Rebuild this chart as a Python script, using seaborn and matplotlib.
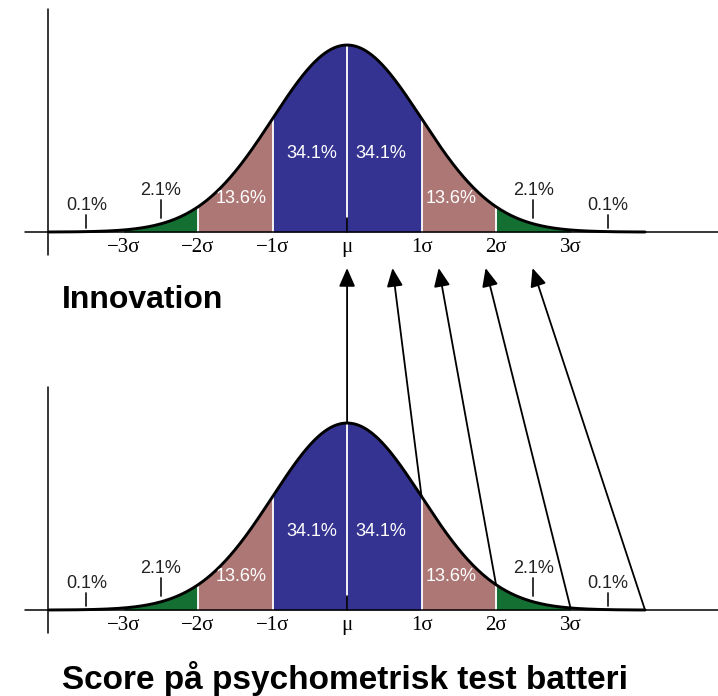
import numpy as np
import matplotlib.pyplot as plt
import seaborn as sns
from matplotlib.patches import ConnectionPatch

sns.set_theme(style="white")
plt.rcParams["font.family"] = ["Liberation Sans", "DejaVu Sans"]
plt.rcParams["text.color"] = "black"

# Data

band_edges = [-3, -2, -1, 0, 1, 2, 3]
band_colors = ["#137032", "#ad7775", "#343391", "#343391", "#ad7775", "#137032"]

inner_labels = ["13.6%", "34.1%", "34.1%", "13.6%"]
inner_x = [-1.42, -0.47, 0.45, 1.40]
inner_y = [0.0725, 0.1685, 0.1685, 0.0725]

tail_labels = ["0.1%", "2.1%", "2.1%", "0.1%"]
tail_x = [-3.5, -2.5, 2.5, 3.5]
tail_label_y = [0.0576, 0.0896, 0.0896, 0.0576]
tail_tick = [(0.0085, 0.0363), (0.0299, 0.0683), (0.0299, 0.0683), (0.0085, 0.0363)]

tick_pos = [-3, -2, -1, 0, 1, 2, 3]
tick_labels = ["\u22123\u03c3", "\u22122\u03c3", "\u22121\u03c3", "\u03bc", "1\u03c3", "2\u03c3", "3\u03c3"]

# arrows: from bottom curve (sigma) to top axis position (sigma)
arrow_from = [0, 1, 2, 3, 4]
arrow_to = [0, 0.61, 1.23, 1.86, 2.49]

titles = ["Innovation", "Score p\u00e5 psychometrisk test batteri"]


def pdf(x):
    return np.exp(-0.5 * np.asarray(x) ** 2) / np.sqrt(2 * np.pi)


def draw_bell(ax):
    xs = np.linspace(-4, 4, 600)
    for i in range(len(band_edges) - 1):
        seg = np.linspace(band_edges[i], band_edges[i + 1], 100)
        ax.fill_between(seg, 0, pdf(seg), color=band_colors[i], lw=0)
    for b in [-2, -1, 1, 2]:
        ax.plot([b, b], [0, pdf(b)], color="white", lw=1.3)
    ax.plot([0, 0], [0.030, pdf(0)], color="white", lw=1.3)
    ax.plot([0, 0], [0, 0.030], color="black", lw=1.2)
    sns.lineplot(x=xs, y=pdf(xs), ax=ax, color="black", lw=2.1)

    ax.plot([-4.32, 4.98], [0, 0], color="black", lw=1.1, clip_on=False)
    ax.plot([-4.01, -4.01], [-0.049, 0.4757], color="black", lw=1.1, clip_on=False)

    for lab, x, y in zip(inner_labels, inner_x, inner_y):
        ax.text(x, y, lab, color="white", fontsize=13, ha="center", va="center")
    for lab, x, y, (t0, t1) in zip(tail_labels, tail_x, tail_label_y, tail_tick):
        ax.text(x, y, lab, color="#222222", fontsize=13, ha="center", va="center")
        ax.plot([x, x], [t0, t1], color="#222222", lw=1.3)

    for p, lab in zip(tick_pos, tick_labels):
        ax.text(p, -0.034, lab, fontsize=15, ha="center", va="center",
                family=["Liberation Serif", "DejaVu Serif"])

    ax.set_xlim(-4.66, 4.98)
    ax.set_ylim(-0.0597, 0.495)
    ax.axis("off")


fig = plt.figure(figsize=(7.18, 6.96), dpi=100)
ax_top = fig.add_axes([0, 0.6264, 1, 0.3736])
ax_bot = fig.add_axes([0, 0.0833, 1, 0.3736])
draw_bell(ax_top)
draw_bell(ax_bot)

fig.text(62 / 718, 1 - 300 / 696, titles[0], fontsize=23, fontweight="bold",
         ha="left", va="center")
fig.text(62 / 718, 1 - 678 / 696, titles[1], fontsize=24, fontweight="bold",
         ha="left", va="center")

for a, b in zip(arrow_from, arrow_to):
    con = ConnectionPatch(xyA=(a, pdf(a)), coordsA=ax_bot.transData,
                          xyB=(b, -0.0768), coordsB=ax_top.transData,
                          arrowstyle="-|>,head_length=0.8,head_width=0.35",
                          mutation_scale=14, color="black", lw=1.3,
                          shrinkA=0, shrinkB=0)
    fig.add_artist(con)

fig.savefig("out.png", dpi=100)
